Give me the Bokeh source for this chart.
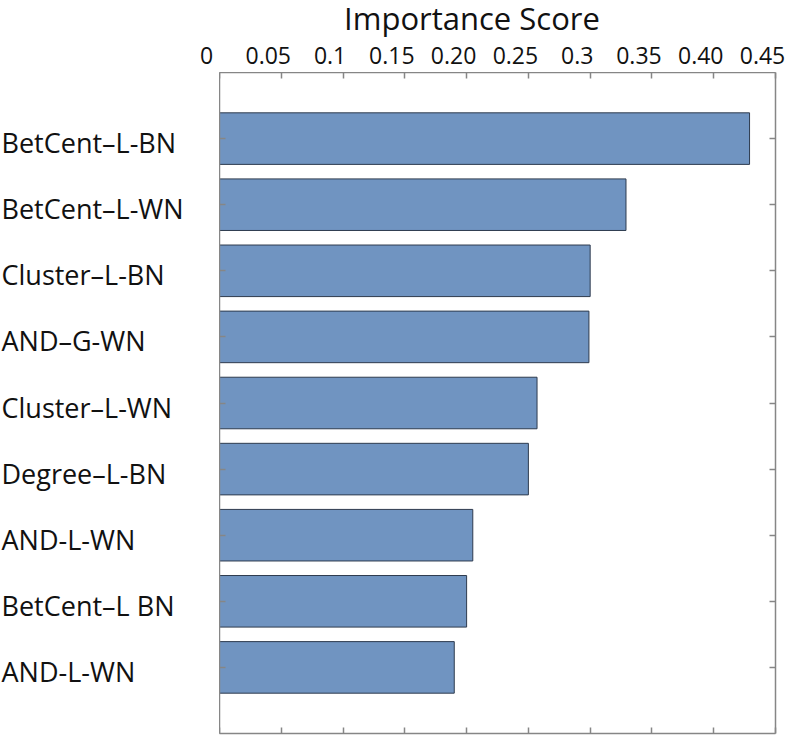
from bokeh.plotting import figure
from bokeh.models import Range1d, FixedTicker, LinearAxis, ColumnDataSource
from bokeh.layouts import row, column
from bokeh.core.properties import value
from bokeh.embed import file_html
from bokeh.resources import INLINE

categories = ["BetCent–L-BN", "BetCent–L-WN", "Cluster–L-BN", "AND–G-WN", "Cluster–L-WN",
              "Degree–L-BN", "AND-L-WN", "BetCent–L BN", "AND-L-WN"]
scores = [0.429, 0.329, 0.300, 0.299, 0.257, 0.250, 0.205, 0.200, 0.190]
x_ticks = [0, 0.05, 0.1, 0.15, 0.2, 0.25, 0.3, 0.35, 0.4, 0.45]
x_tick_labels = ["0", "0.05", "0.1", "0.15", "0.20", "0.25", "0.3", "0.35", "0.40", "0.45"]
axis_title = "Importance Score"

positions = list(range(1, len(categories) + 1))
src = ColumnDataSource(dict(y=positions, score=scores, name=categories,
                            lx=[0] * len(categories)))

FONT = "Open Sans"
GRAY = "#868686"
TXT = "#111111"

W, H = 788, 735
LEFT_W = 219      # width of the category label column
RIGHT_PAD = 13
STRIP_H = 72      # strip holding the title and the top tick labels
TOP_B, BOT_B = 0, 2
BOX_W = W - LEFT_W - RIGHT_PAD

x_range = Range1d(x_ticks[0], x_ticks[-1])
y_range = Range1d(len(categories) + 1, 0)


def bare(fig):
    fig.outline_line_color = None
    fig.xgrid.visible = False
    fig.ygrid.visible = False
    return fig


# ---- strip with title + top tick labels (same x scale as the box) ----
px = (x_ticks[-1] - x_ticks[0]) / BOX_W
strip = bare(figure(width=W, height=STRIP_H, output_backend="svg", toolbar_location=None,
                    x_range=Range1d(x_ticks[0] - LEFT_W * px, x_ticks[-1] + RIGHT_PAD * px),
                    y_range=Range1d(0, 1), x_axis_location=None, y_axis_location=None,
                    min_border=0))
tsrc = ColumnDataSource(dict(x=x_ticks, y=[0] * len(x_ticks), text=x_tick_labels))
strip.text(x="x", y="y", text="text", source=tsrc, x_offset=-13, y_offset=-17,
           text_align="center", text_baseline="middle", text_font=value(FONT),
           text_font_size="23px", text_color=TXT)
strip.text(x=[(x_ticks[0] + x_ticks[-1]) / 2], y=[0], text=[axis_title], x_offset=-25.5,
           y_offset=-55, text_align="center", text_baseline="middle",
           text_font=value(FONT), text_font_size="31px", text_color=TXT)

# ---- label column (category names, left aligned) ----
pl = bare(figure(width=LEFT_W, height=H - STRIP_H, output_backend="svg", toolbar_location=None,
                 x_range=Range1d(0, 1), y_range=y_range,
                 x_axis_location=None, y_axis_location=None,
                 min_border_left=0, min_border_right=0, min_border_top=TOP_B,
                 min_border_bottom=BOT_B))
pl.text(x="lx", y="y", text="name", source=src, x_offset=1, y_offset=4,
        text_align="left", text_baseline="middle", text_font=value(FONT),
        text_font_size="27px", text_color=TXT)

# ---- main chart box ----
p = bare(figure(width=W - LEFT_W, height=H - STRIP_H, output_backend="svg",
                toolbar_location=None, x_range=x_range, y_range=y_range,
                x_axis_location=None, y_axis_location=None,
                min_border_left=0, min_border_right=RIGHT_PAD, min_border_bottom=BOT_B,
                min_border_top=TOP_B))

p.hbar(y="y", right="score", left=0, height=0.78, fill_color="#7094C1",
       line_color="#2E3B4E", line_width=1, source=src)


def tick_axis(ticks):
    return LinearAxis(ticker=FixedTicker(ticks=ticks), major_tick_in=6, major_tick_out=0,
                      minor_tick_in=0, minor_tick_out=0, axis_line_color=GRAY,
                      axis_line_width=1.5, major_tick_line_color=GRAY,
                      major_tick_line_width=1.5,
                      major_label_overrides={t: "" for t in ticks},
                      major_label_text_font_size="1px", major_label_standoff=0)


p.add_layout(tick_axis(x_ticks), "above")
p.add_layout(tick_axis(x_ticks), "below")
p.add_layout(tick_axis(positions), "left")
p.add_layout(tick_axis(positions), "right")

layout = column(strip, row(pl, p))
open("out.html", "w").write(file_html(layout, INLINE))
